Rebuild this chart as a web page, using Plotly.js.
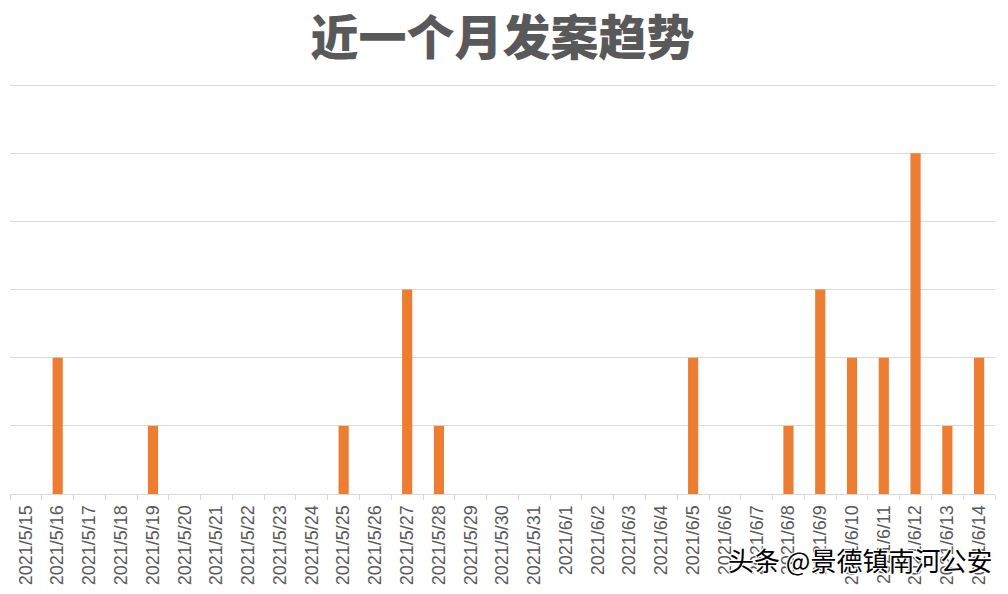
<!DOCTYPE html>
<html><head><meta charset="utf-8">
<script src="https://cdn.plot.ly/plotly-3.0.1.min.js"></script>
<style>html,body{margin:0;padding:0;background:#fff}</style></head>
<body><div id="chart" style="width:1008px;height:594px"></div>
<script>
const chartTitle = "近一个月发案趋势";
const watermark = "头条 @景德镇南河公安";
const dates = ["2021/5/15","2021/5/16","2021/5/17","2021/5/18","2021/5/19","2021/5/20","2021/5/21","2021/5/22","2021/5/23","2021/5/24","2021/5/25","2021/5/26","2021/5/27","2021/5/28","2021/5/29","2021/5/30","2021/5/31","2021/6/1","2021/6/2","2021/6/3","2021/6/4","2021/6/5","2021/6/6","2021/6/7","2021/6/8","2021/6/9","2021/6/10","2021/6/11","2021/6/12","2021/6/13","2021/6/14"];
const cases = [0,2,0,0,1,0,0,0,0,0,1,0,3,1,0,0,0,0,0,0,0,2,0,0,1,3,2,2,5,1,2];
const gridTicks = [0,1,2,3,4,5,6];

Plotly.newPlot("chart",[{
  type:"bar", x:dates, y:cases,
  marker:{color:"#ED7D31"}, hoverinfo:"x+y"
}],{
  width:1008,height:594,
  paper_bgcolor:"#fff",plot_bgcolor:"#fff",
  showlegend:false,bargap:0.68,
  margin:{l:10,r:13,t:83,b:100},
  title:{text:chartTitle,x:0.5,xref:"paper",xanchor:"center",y:0.935,yanchor:"middle",
    font:{family:"'Noto Sans CJK SC'",size:48,color:"#595959",weight:900}},
  xaxis:{type:"category",categoryorder:"array",categoryarray:dates,
    tickmode:"array",tickvals:dates,ticktext:dates,
    tickangle:-90,tickson:"boundaries",ticks:"outside",ticklen:5,tickcolor:"#D9D9D9",tickwidth:1,
    showline:true,linecolor:"#D9D9D9",linewidth:1,showgrid:false,zeroline:false,
    ticklabelstandoff:3,
    tickfont:{family:"'Liberation Sans'",size:18,color:"#595959"}},
  yaxis:{range:[0,6.03],tickmode:"array",tickvals:gridTicks,showticklabels:false,ticks:"",
    showgrid:true,gridcolor:"#D9D9D9",gridwidth:1,zeroline:false,showline:false},
  annotations:[{xref:"paper",yref:"paper",x:850/985,y:-0.16,xanchor:"center",yanchor:"middle",showarrow:false,
    text:watermark,font:{family:"'Noto Sans CJK SC'",size:26,color:"#000",shadow:"1px 1px 0 #fff, -1px -1px 0 #fff, 1px -1px 0 #fff, -1px 1px 0 #fff"}}]
},{displayModeBar:false,responsive:false});
</script></body></html>
